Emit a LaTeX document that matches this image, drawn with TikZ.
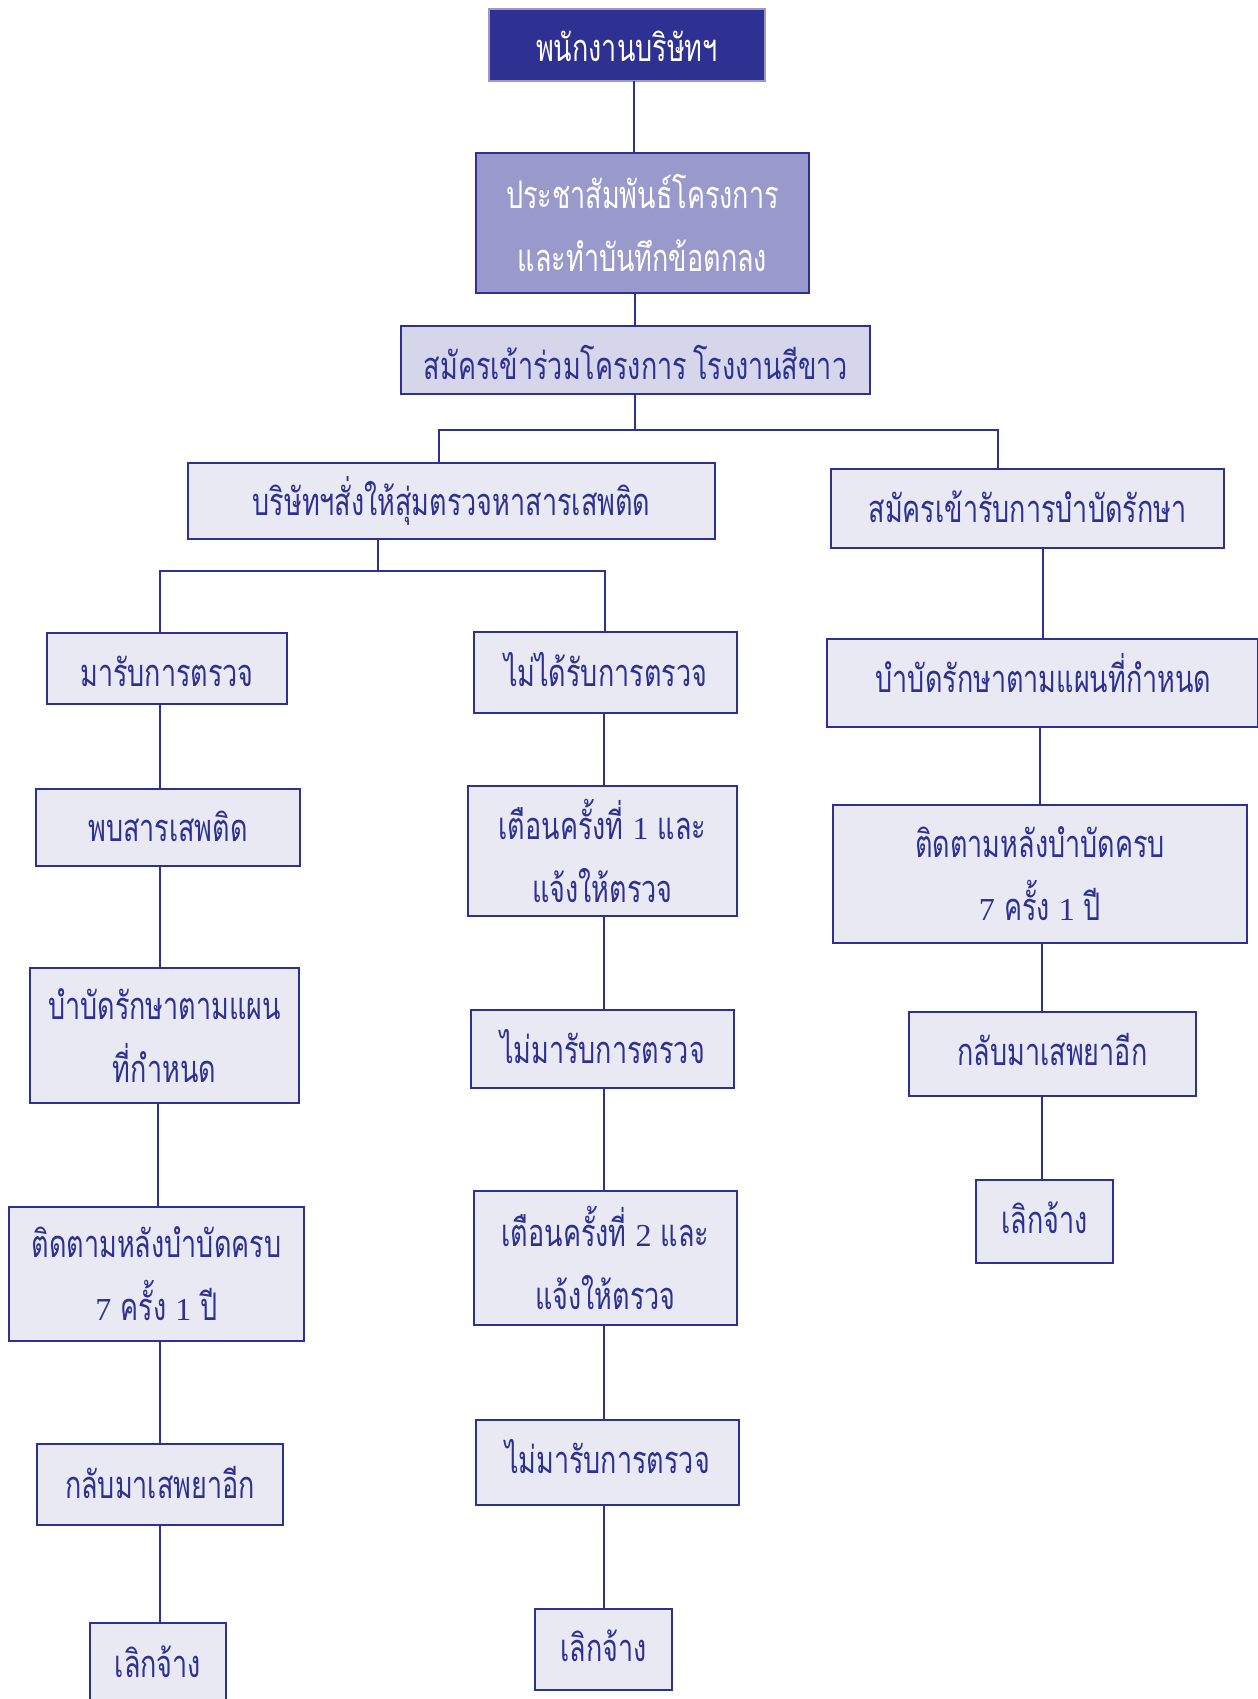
\documentclass[tikz,border=0pt]{standalone}
\usepackage{fontspec}
\setmainfont[Script=Thai, FakeStretch=0.71]{Loma}
\newfontfamily\digitfont{Liberation Serif}
\usetikzlibrary{calc}

\definecolor{navy}{HTML}{2E3192}
\definecolor{lavender}{HTML}{9999CC}
\definecolor{paleblue}{HTML}{E9E9F3}
\definecolor{midpale}{HTML}{D5D6EA}

% a box given by its two corners (in px units of the drawing grid)
\newcommand\flowbox[7]{%
  \pgfmathsetmacro\bxw{(#5-#3)*0.5}%
  \pgfmathsetmacro\bxh{(#6-#4)*0.5}%
  \node[#1, minimum width=\bxw pt, minimum height=\bxh pt] (#2)
    at ({(#3+#5)/2},{(#4+#6)/2}) {#7};}
\newcommand\dg[1]{{\digitfont\fontsize{16}{16}\selectfont #1}}

\begin{document}
\begin{tikzpicture}[x=0.5pt, y=-0.5pt,
  every node/.style={inner sep=0pt, outer sep=0pt, align=center,
    font=\fontsize{19}{31.5}\selectfont},
  oneline/.style={text height=18pt, text depth=4pt},
  plainbox/.style={draw=navy, line width=1.1pt, fill=paleblue, text=navy},
  headbox/.style={draw=lavender, line width=1.1pt, fill=navy, text=white},
  introbox/.style={draw=navy, line width=1.1pt, fill=lavender, text=white},
  joinbox/.style={draw=navy, line width=1.1pt, fill=midpale, text=navy},
  link/.style={draw=navy, line width=1.1pt}]

\useasboundingbox (0,0) rectangle (1258,1699);
\fill[white] (0,0) rectangle (1258,1699);

% upper part
\flowbox{headbox,oneline,text height=20pt}{staff}{489}{9}{765}{81}{พนักงานบริษัทฯ}
\flowbox{introbox}{promo}{476}{153}{809}{293}{ประชาสัมพันธ์โครงการ\\[-0.1pt]และทำบันทึกข้อตกลง}
\flowbox{joinbox,oneline,text height=23pt}{join}{401}{326}{870}{394}{สมัครเข้าร่วมโครงการ\hspace{3pt}โรงงานสีขาว}
\flowbox{plainbox,oneline}{order}{188}{463}{715}{539}{บริษัทฯสั่งให้สุ่มตรวจหาสารเสพติด}
\flowbox{plainbox,oneline}{apply}{831}{469}{1224}{548}{สมัครเข้ารับการบำบัดรักษา}

% left column
\flowbox{plainbox,oneline,text height=22pt}{came}{47}{633}{287}{704}{มารับการตรวจ}
\flowbox{plainbox,oneline}{found}{36}{789}{300}{866}{พบสารเสพติด}
\flowbox{plainbox}{treatL}{30}{968}{299}{1103}{บำบัดรักษาตามแผน\\ที่กำหนด}
\flowbox{plainbox}{followL}{9}{1207}{304}{1341}{ติดตามหลังบำบัดครบ\\\dg{7} ครั้ง \dg{1} ปี}
\flowbox{plainbox,oneline}{relapseL}{37}{1444}{283}{1525}{กลับมาเสพยาอีก}
\flowbox{plainbox,oneline}{fireL}{90}{1623}{226}{1703}{เลิกจ้าง}

% middle column
\flowbox{plainbox,oneline}{notcame}{474}{632}{737}{713}{ไม่ได้รับการตรวจ}
\flowbox{plainbox}{warnA}{468}{786}{737}{916}{เตือนครั้งที่ \dg{1} และ\\แจ้งให้ตรวจ}
\flowbox{plainbox,oneline}{absentA}{471}{1010}{734}{1088}{ไม่มารับการตรวจ}
\flowbox{plainbox}{warnB}{474}{1191}{737}{1325}{เตือนครั้งที่ \dg{2} และ\\แจ้งให้ตรวจ}
\flowbox{plainbox,oneline,text height=15pt}{absentB}{476}{1420}{739}{1505}{ไม่มารับการตรวจ}
\flowbox{plainbox,oneline,text height=16pt}{fireM}{535}{1609}{672}{1690}{เลิกจ้าง}

% right column
\flowbox{plainbox,oneline,text height=13pt}{treatR}{827}{639}{1258}{727}{\hspace*{1pt}บำบัดรักษาตามแผนที่กำหนด}
\flowbox{plainbox}{followR}{833}{805}{1247}{943}{ติดตามหลังบำบัดครบ\\\dg{7} ครั้ง \dg{1} ปี}
\flowbox{plainbox,oneline,text height=15pt}{relapseR}{909}{1012}{1196}{1096}{กลับมาเสพยาอีก}
\flowbox{plainbox,oneline,text height=16pt}{fireR}{976}{1180}{1113}{1263}{เลิกจ้าง}

% connector junctions
\coordinate (splitA) at (635,430);
\coordinate (splitB) at (378,571);

% connectors
\draw[link] (staff.south -| 634,0) -- (promo.north -| 634,0);
\draw[link] (promo.south -| 635,0) -- (join.north -| 635,0);
\draw[link] (join.south -| splitA) -- (splitA);
\draw[link] (order.north -| 439,0) |- (splitA) -| (apply.north -| 998,0);
\draw[link] (order.south -| splitB) -- (splitB);
\draw[link] (came.north -| 160,0) |- (splitB) -| (notcame.north -| 605,0);

\draw[link] (came.south -| 160,0) -- (found.north -| 160,0);
\draw[link] (found.south -| 160,0) -- (treatL.north -| 160,0);
\draw[link] (treatL.south -| 158,0) -- (followL.north -| 158,0);
\draw[link] (followL.south -| 160,0) -- (relapseL.north -| 160,0);
\draw[link] (relapseL.south -| 160,0) -- (fireL.north -| 160,0);

\draw[link] (notcame.south -| 604,0) -- (warnA.north -| 604,0);
\draw[link] (warnA.south -| 604,0) -- (absentA.north -| 604,0);
\draw[link] (absentA.south -| 604,0) -- (warnB.north -| 604,0);
\draw[link] (warnB.south -| 604,0) -- (absentB.north -| 604,0);
\draw[link] (absentB.south -| 604,0) -- (fireM.north -| 604,0);

\draw[link] (apply.south -| 1043,0) -- (treatR.north -| 1043,0);
\draw[link] (treatR.south -| 1040,0) -- (followR.north -| 1040,0);
\draw[link] (followR.south -| 1042,0) -- (relapseR.north -| 1042,0);
\draw[link] (relapseR.south -| 1042,0) -- (fireR.north -| 1042,0);
\end{tikzpicture}
\end{document}
